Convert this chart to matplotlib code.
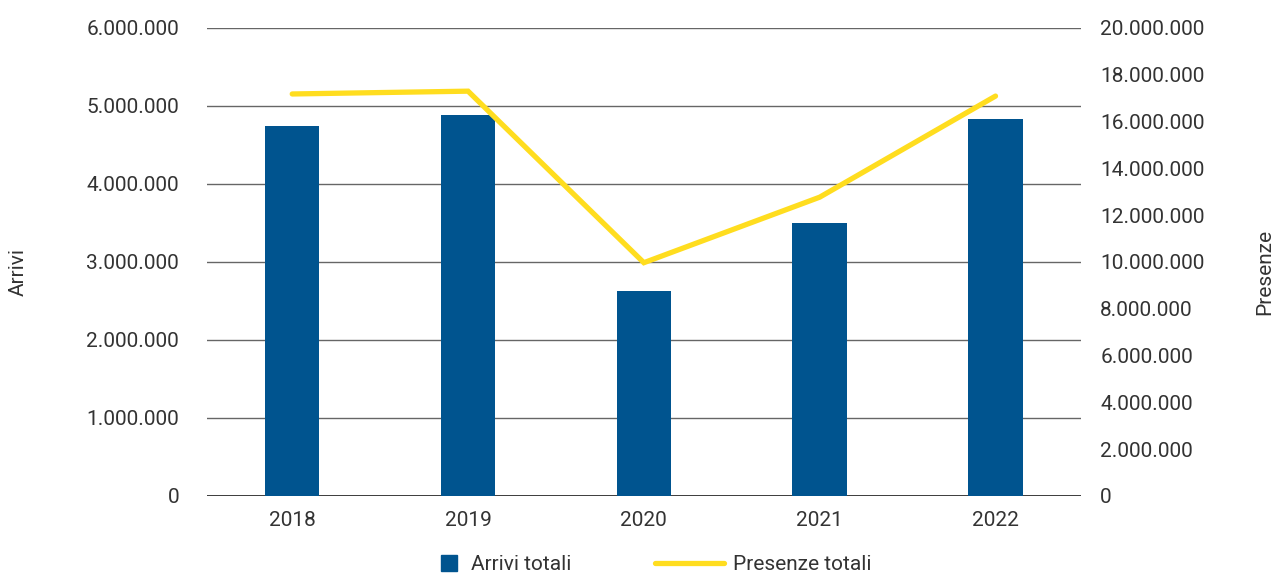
import numpy as np
import matplotlib.pyplot as plt
from matplotlib.ticker import FuncFormatter
from matplotlib.lines import Line2D

# dati turistici annuali
anni = ["2018", "2019", "2020", "2021", "2022"]
arrivi = [4740000, 4880000, 2630000, 3500000, 4830000]
presenze = [17180000, 17300000, 9970000, 12770000, 17090000]

plt.rcParams['font.family'] = ['Roboto', 'DejaVu Sans']
blu = "#00548F"
giallo = "#FFDD1F"
testo = "#333333"

def punti(v, pos):
    return f"{int(v):,}".replace(",", ".")

fig = plt.figure(figsize=(12.83, 5.77), dpi=100)
ax = fig.add_axes([0.1613, 0.1404, 0.6811, 0.8111])
ax2 = ax.twinx()

x = np.arange(len(anni))
ax.bar(x, arrivi, width=0.31, color=blu, zorder=3)
ax2.plot(x, presenze, color=giallo, lw=3.8, solid_capstyle='round', solid_joinstyle='miter', zorder=4)

ax.set_xlim(-0.485, 4.485)
ax.set_ylim(0, 6000000)
ax2.set_ylim(0, 20000000)
ax.set_yticks(np.arange(0, 6000001, 1000000))
ax2.set_yticks(np.arange(0, 20000001, 2000000))
ax.yaxis.set_major_formatter(FuncFormatter(punti))
ax2.yaxis.set_major_formatter(FuncFormatter(punti))
ax.set_xticks(x)
ax.set_xticklabels(anni)

ax.grid(axis='y', color="#666666", lw=1, zorder=0)
for a in (ax, ax2):
    for s in a.spines.values():
        s.set_visible(False)
    a.tick_params(length=0, labelsize=15, labelcolor=testo)
ax.axhline(0, color="#222222", lw=1.2, zorder=2)
ax.tick_params(axis='y', pad=20)
ax2.tick_params(axis='y', pad=14)
ax.tick_params(axis='x', pad=11)
ax2.set_zorder(ax.get_zorder() + 1)
ax2.patch.set_visible(False)

fig.text(0.014, 0.528, "Arrivi", rotation=90, ha='center', va='center', fontsize=15, color=testo)
fig.text(0.986, 0.528, "Presenze", rotation=90, ha='center', va='center', fontsize=15, color=testo)

# legenda in due pezzi per avere simboli di lunghezza diversa
leg1 = fig.legend([Line2D([0], [0], marker='s', ls='none', markersize=11, color=blu)], ["Arrivi totali"],
                  loc='center left', bbox_to_anchor=(0.3437, 0.021), frameon=False, fontsize=15,
                  handlelength=0.8, handletextpad=0.63, borderpad=0, borderaxespad=0, labelcolor=testo)
fig.legend([Line2D([0], [0], color=giallo, lw=3.8, solid_capstyle='round')], ["Presenze totali"],
           loc='center left', bbox_to_anchor=(0.5105, 0.021), frameon=False, fontsize=15,
           handlelength=3.3, handletextpad=0.43, borderpad=0, borderaxespad=0, labelcolor=testo)

fig.savefig("out.png", dpi=100)
